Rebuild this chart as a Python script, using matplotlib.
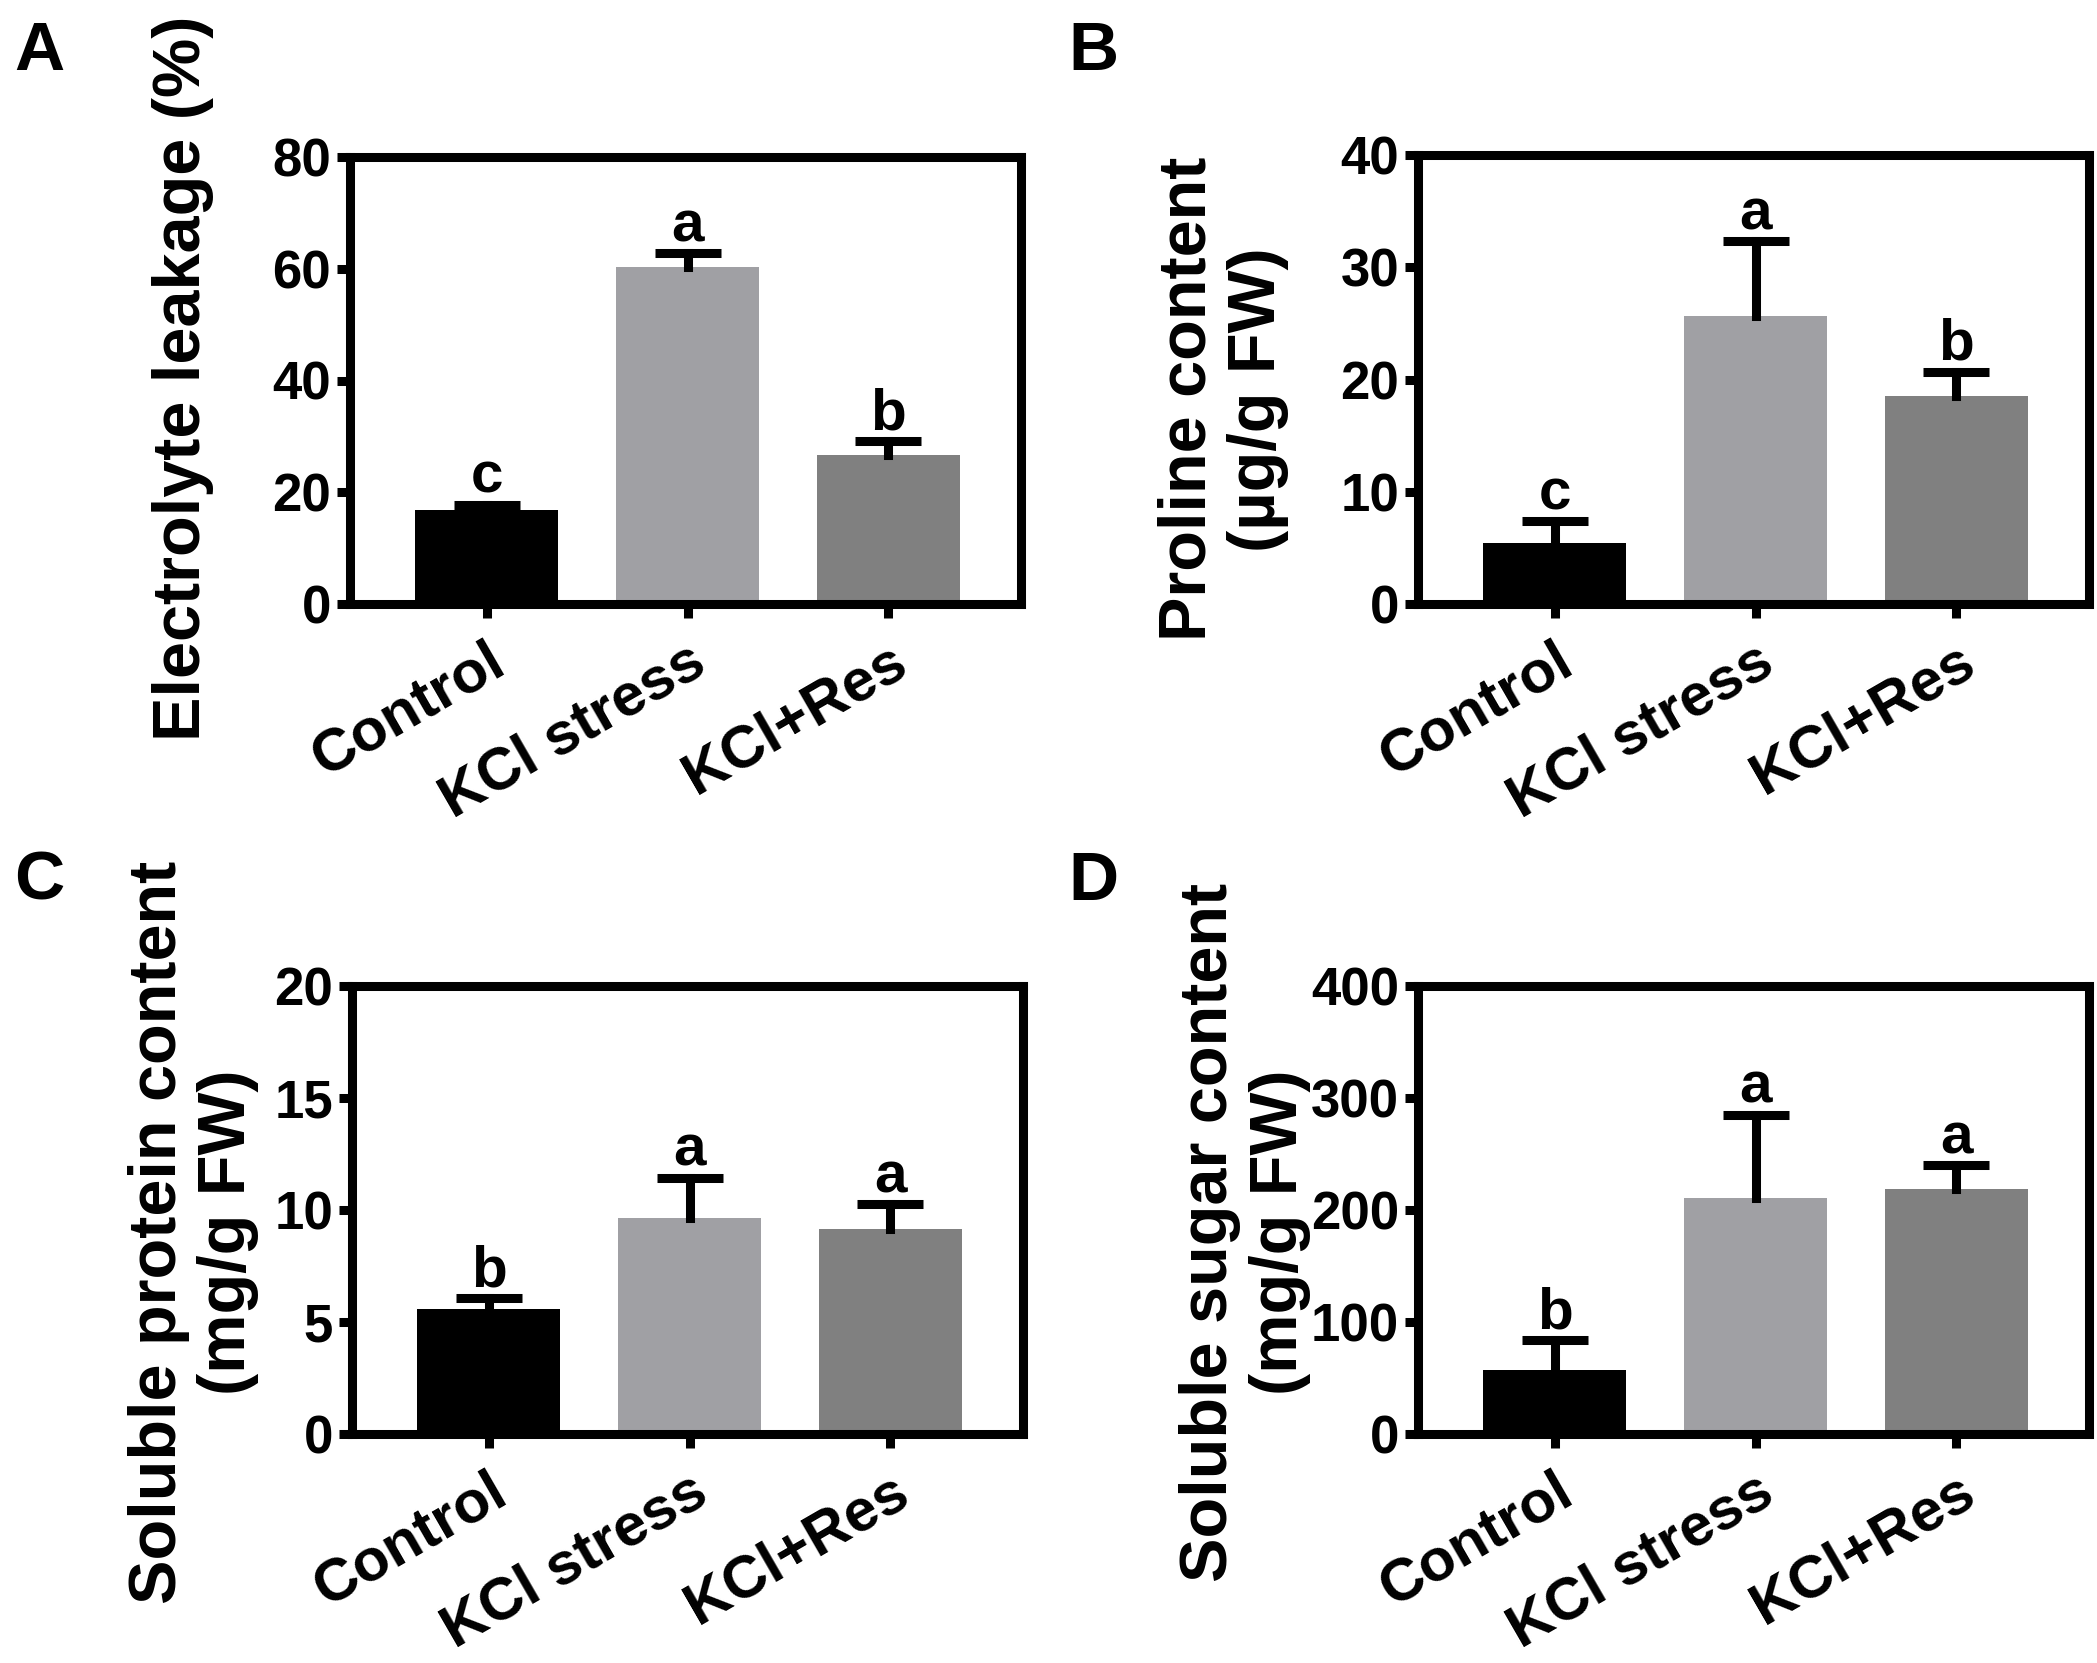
import numpy as np
import matplotlib
matplotlib.use("Agg")
import matplotlib.pyplot as plt
from matplotlib import font_manager
from matplotlib.transforms import ScaledTranslation

plt.rcParams['font.family'] = ['Liberation Sans', 'DejaVu Sans']
plt.rcParams['font.weight'] = 'bold'

# the y tick digits in the original are a condensed bold face
names = {f.name for f in font_manager.fontManager.ttflist}
if "Liberation Sans Narrow" in names:
    TICK_FAM, TICK_SIZE = ["Liberation Sans Narrow", "Liberation Sans"], 42
else:
    TICK_FAM, TICK_SIZE = ["Liberation Sans", "DejaVu Sans"], 38

groups = ["Control", "KCl stress", "KCl+Res"]
colors = ["#000000", "#a0a0a4", "#808080"]

# panel A: electrolyte leakage (%)
leak_mean = [16.9, 60.3, 26.6]
leak_sd = [0.9, 2.5, 2.5]
leak_sig = ["c", "a", "b"]
# panel B: proline content (ug/g FW)
pro_mean = [5.4, 25.7, 18.5]
pro_sd = [2.0, 6.6, 2.2]
pro_sig = ["c", "a", "b"]
# panel C: soluble protein (mg/g FW)
prot_mean = [5.6, 9.65, 9.17]
prot_sd = [0.45, 1.8, 1.1]
prot_sig = ["b", "a", "a"]
# panel D: soluble sugar (mg/g FW)
sug_mean = [57, 211, 219]
sug_sd = [27, 74, 21]
sug_sig = ["b", "a", "a"]

W, H = 2097, 1663
fig = plt.figure(figsize=(W / 100, H / 100), dpi=100)


def px_axes(left, top, right, bottom):
    return fig.add_axes([left / W, 1 - bottom / H, (right - left) / W, (bottom - top) / H])


panels = [
    # box (px), letter pos, means, sds, sig, ymax, step, ylabel, label coords
    ((350, 157, 1021, 604), (14, 20), "A", leak_mean, leak_sd, leak_sig, 80, 20,
     "Electrolyte leakage (%)", (-0.203, 0.505)),
    ((1418, 155, 2089, 604), (1068, 20), "B", pro_mean, pro_sd, pro_sig, 40, 10,
     "Proline content\n(µg/g FW)", (-0.192, 0.456)),
    ((352, 986, 1023, 1434), (14, 850), "C", prot_mean, prot_sd, prot_sig, 20, 5,
     "Soluble protein content\n(mg/g FW)", (-0.139, 0.45)),
    ((1418, 986, 2089, 1434), (1068, 850), "D", sug_mean, sug_sd, sug_sig, 400, 100,
     "Soluble sugar content\n(mg/g FW)", (-0.16, 0.45)),
]

x = np.arange(len(groups))
for box, lpos, letter, mean, sd, sig, ymax, step, ylabel, lc in panels:
    ax = px_axes(*box)
    top = np.array(mean) + np.array(sd)
    ax.bar(x, mean, width=0.71, color=colors, zorder=2)
    # upper-only error bars with a single cap
    ax.vlines(x, mean, top, color="black", lw=6.5, zorder=3, capstyle="projecting")
    ax.plot(x, top, ls="none", marker="_", ms=48, mew=6.5, color="black", zorder=3)
    for xi, t, s in zip(x, top, sig):
        ax.annotate(s, xy=(xi, t), xytext=(0, 8.5), textcoords="offset points",
                    ha="center", va="baseline", fontsize=42, fontweight="bold")
    ax.set_xlim(-0.68, 2.66)
    ax.set_ylim(0, ymax)
    ax.set_yticks(np.arange(0, ymax + step / 2, step))
    ax.set_xticks(x)
    ax.set_xticklabels(groups, rotation=30, ha="right", rotation_mode="anchor",
                       fontsize=43, fontweight="bold")
    shift = ScaledTranslation(-6 / 72, 0, fig.dpi_scale_trans)
    for lab in ax.get_xticklabels():
        lab.set_transform(lab.get_transform() + shift)
    for lab in ax.get_yticklabels():
        lab.set_fontsize(TICK_SIZE)
        lab.set_fontweight("bold")
        lab.set_family(TICK_FAM)
    ax.tick_params(axis="y", direction="out", length=9.5, width=6.5, pad=4)
    ax.tick_params(axis="x", direction="out", length=10, width=6.5, pad=11)
    for sp in ax.spines.values():
        sp.set_linewidth(6.5)
    ax.set_ylabel(ylabel, fontsize=48, fontweight="bold", linespacing=1.15)
    ax.yaxis.set_label_coords(*lc)
    fig.text(lpos[0] / W, 1 - lpos[1] / H, letter, ha="left", va="top",
             fontsize=50, fontweight="bold")

fig.savefig("out.png", dpi=100)
